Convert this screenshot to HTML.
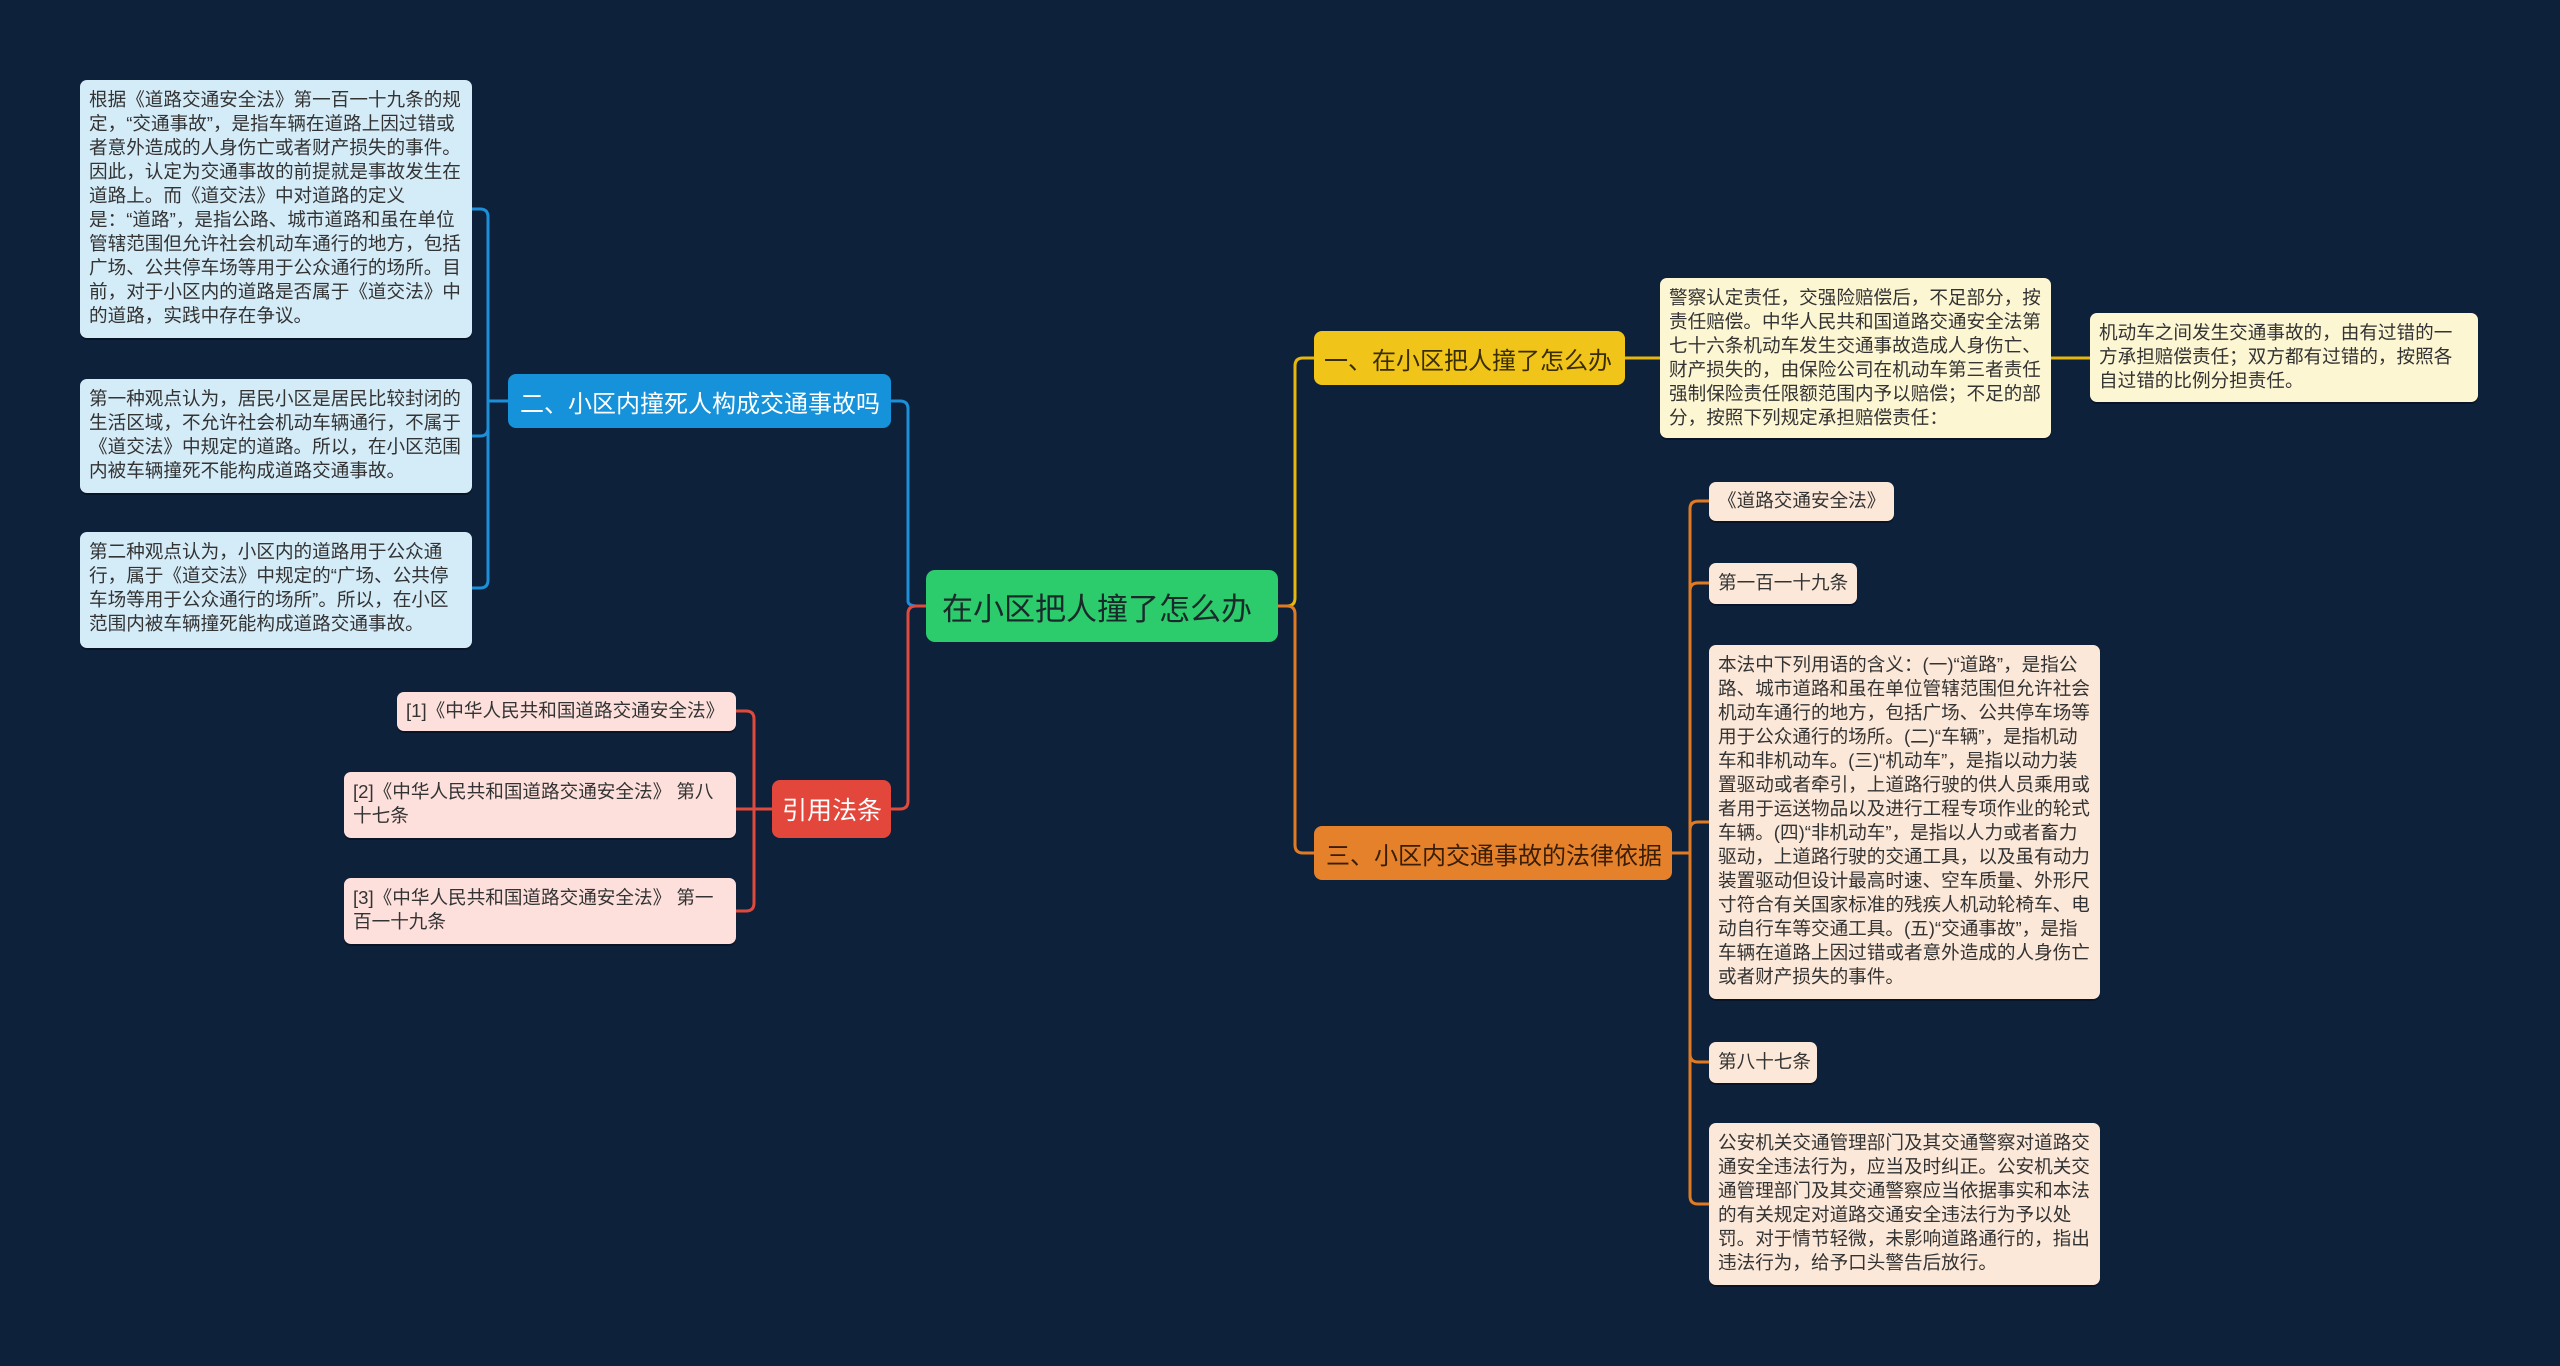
<!DOCTYPE html>
<html><head><meta charset="utf-8"><style>
body{margin:0;width:2560px;height:1366px;background:#0e213b;position:relative;overflow:hidden;font-family:"Liberation Sans","Noto Sans CJK SC",sans-serif}
.n{position:absolute;box-sizing:border-box;border-radius:8px;display:flex;align-items:center;white-space:nowrap}
.l{position:absolute;box-sizing:border-box;border-radius:7px;font-size:18.6px;line-height:24px;padding:8px 9px;color:#333;box-shadow:0 2px 0 rgba(0,0,0,.35)}
.s{white-space:nowrap}
.b{background:#d4ebf8}.y{background:#fdf6d3}.o{background:#fce8d8}.r{background:#fde0dc}
svg{position:absolute;left:0;top:0}
</style></head><body>
<svg width="2560" height="1366" fill="none" stroke-width="3">
<g stroke="#1d8fd8">
<path d="M891 401 H900 Q908 401 908 409 V601 Q908 606 918 606 H926"/>
<path d="M508 401 H488"/>
<path d="M488 401 V217 Q488 209 480 209 H472"/>
<path d="M488 401 V428 Q488 436 480 436 H472"/>
<path d="M488 401 V580 Q488 588 480 588 H472"/>
</g>
<g stroke="#e04a3c">
<path d="M926 606 H916 Q908 606 908 614 V801 Q908 809 900 809 H891"/>
<path d="M772 809 H754"/>
<path d="M754 809 V719 Q754 711 746 711 H736"/>
<path d="M754 809 H736"/>
<path d="M754 809 V903 Q754 911 746 911 H736"/>
</g>
<g stroke="#e6b80e">
<path d="M1278 606 H1287 Q1295 606 1295 598 V366 Q1295 358 1303 358 H1314"/>
<path d="M1625 358 H1660"/>
<path d="M2051 358 H2090"/>
</g>
<g stroke="#e07b24">
<path d="M1278 606 H1287 Q1295 606 1295 614 V845 Q1295 853 1303 853 H1314"/>
<path d="M1672 853 H1690"/>
<path d="M1690 853 V509 Q1690 501 1698 501 H1709"/>
<path d="M1690 853 V591 Q1690 583 1698 583 H1709"/>
<path d="M1690 853 V830 Q1690 822 1698 822 H1709"/>
<path d="M1690 853 V1054 Q1690 1062 1698 1062 H1709"/>
<path d="M1690 853 V1196 Q1690 1204 1698 1204 H1709"/>
</g>
</svg>

<div class="n" style="left:926px;top:570px;width:352px;height:72px;background:#2ccb6c;color:#1a2a2a;font-size:31px;padding-left:16px;border-radius:9px">在小区把人撞了怎么办</div>
<div class="n" style="left:508px;top:374px;width:383px;height:54px;background:#1592d9;color:#fff;font-size:24px;padding-left:12px">二、小区内撞死人构成交通事故吗</div>
<div class="n" style="left:772px;top:780px;width:119px;height:58px;background:#e3473b;color:#fff;font-size:25px;padding-left:10px">引用法条</div>
<div class="n" style="left:1314px;top:331px;width:311px;height:54px;background:#f0c419;color:#3a2e00;font-size:24px;padding-left:10px">一、在小区把人撞了怎么办</div>
<div class="n" style="left:1314px;top:826px;width:358px;height:54px;background:#e5812a;color:#3a1d05;font-size:24px;padding-left:12px">三、小区内交通事故的法律依据</div>

<div class="l b" style="left:80px;top:80px;width:392px;height:258px">根据《道路交通安全法》第一百一十九条的规定，“交通事故”，是指车辆在道路上因过错或者意外造成的人身伤亡或者财产损失的事件。因此，认定为交通事故的前提就是事故发生在道路上。而《道交法》中对道路的定义是：“道路”，是指公路、城市道路和虽在单位管辖范围但允许社会机动车通行的地方，包括广场、公共停车场等用于公众通行的场所。目前，对于小区内的道路是否属于《道交法》中的道路，实践中存在争议。</div>
<div class="l b" style="left:80px;top:379px;width:392px;height:114px">第一种观点认为，居民小区是居民比较封闭的生活区域，不允许社会机动车辆通行，不属于《道交法》中规定的道路。所以，在小区范围内被车辆撞死不能构成道路交通事故。</div>
<div class="l b" style="left:80px;top:532px;width:392px;height:116px">第二种观点认为，小区内的道路用于公众通行，属于《道交法》中规定的“广场、公共停车场等用于公众通行的场所”。所以，在小区范围内被车辆撞死能构成道路交通事故。</div>

<div class="l r s" style="left:397px;top:692px;width:339px;height:39px;padding-top:7px">[1]《中华人民共和国道路交通安全法》</div>
<div class="l r" style="left:344px;top:772px;width:392px;height:66px">[2]《中华人民共和国道路交通安全法》 第八十七条</div>
<div class="l r" style="left:344px;top:878px;width:392px;height:66px">[3]《中华人民共和国道路交通安全法》 第一百一十九条</div>

<div class="l y" style="left:1660px;top:278px;width:391px;height:160px">警察认定责任，交强险赔偿后，不足部分，按责任赔偿。中华人民共和国道路交通安全法第七十六条机动车发生交通事故造成人身伤亡、财产损失的，由保险公司在机动车第三者责任强制保险责任限额范围内予以赔偿；不足的部分，按照下列规定承担赔偿责任：</div>
<div class="l y" style="left:2090px;top:313px;width:388px;height:89px">机动车之间发生交通事故的，由有过错的一方承担赔偿责任；双方都有过错的，按照各自过错的比例分担责任。</div>

<div class="l o s" style="left:1709px;top:482px;width:185px;height:39px;padding-top:7px">《道路交通安全法》</div>
<div class="l o s" style="left:1709px;top:563px;width:148px;height:41px;padding-top:8px">第一百一十九条</div>
<div class="l o" style="left:1709px;top:645px;width:391px;height:354px">本法中下列用语的含义：(一)“道路”，是指公路、城市道路和虽在单位管辖范围但允许社会机动车通行的地方，包括广场、公共停车场等用于公众通行的场所。(二)“车辆”，是指机动车和非机动车。(三)“机动车”，是指以动力装置驱动或者牵引，上道路行驶的供人员乘用或者用于运送物品以及进行工程专项作业的轮式车辆。(四)“非机动车”，是指以人力或者畜力驱动，上道路行驶的交通工具，以及虽有动力装置驱动但设计最高时速、空车质量、外形尺寸符合有关国家标准的残疾人机动轮椅车、电动自行车等交通工具。(五)“交通事故”，是指车辆在道路上因过错或者意外造成的人身伤亡或者财产损失的事件。</div>
<div class="l o s" style="left:1709px;top:1042px;width:108px;height:41px;padding-top:8px">第八十七条</div>
<div class="l o" style="left:1709px;top:1123px;width:391px;height:162px">公安机关交通管理部门及其交通警察对道路交通安全违法行为，应当及时纠正。公安机关交通管理部门及其交通警察应当依据事实和本法的有关规定对道路交通安全违法行为予以处罚。对于情节轻微，未影响道路通行的，指出违法行为，给予口头警告后放行。</div>
</body></html>
